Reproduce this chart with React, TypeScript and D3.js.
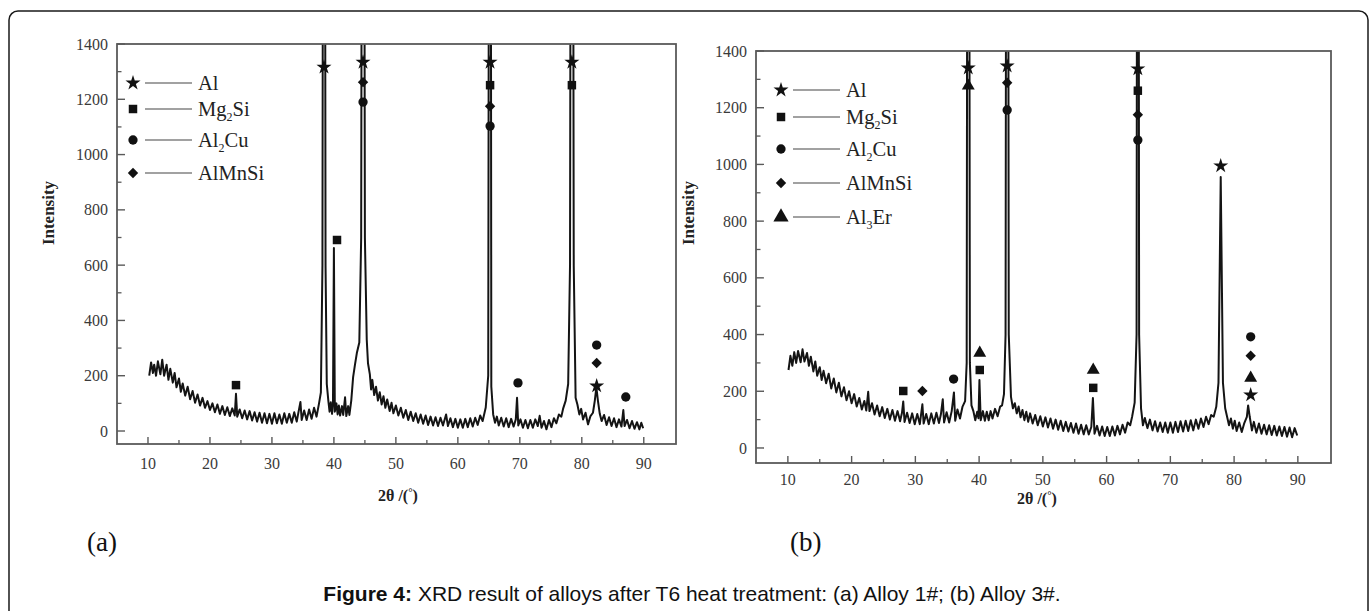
import * as d3 from 'd3';

type Pt = [number, number];

// axis ticks (2θ in degrees, intensity in counts)
const xTicks = [10, 20, 30, 40, 50, 60, 70, 80, 90];
const xMinorTicks = [15, 25, 35, 45, 55, 65, 75, 85];
const yTicks = [0, 200, 400, 600, 800, 1000, 1200, 1400];
const yMinorTicks = [100, 300, 500, 700, 900, 1100, 1300];

// (a) Alloy 1# pattern
const profileA: Pt[] = [
  [10.2, 200], [10.5, 248], [10.8, 210], [11, 240], [11.3, 200], [11.6, 252], [12, 205], [12.3, 258],
  [12.6, 200], [13, 240], [13.3, 185], [13.6, 225], [14, 175], [14.3, 210], [14.6, 158], [15, 190],
  [15.3, 142], [15.6, 172], [16, 128], [16.4, 160], [16.8, 115], [17.2, 145], [17.6, 102], [18, 132],
  [18.4, 92], [18.8, 120], [19.2, 84], [19.6, 108], [20, 76], [20.4, 100], [20.8, 68], [21.2, 96],
  [21.6, 62], [22, 90], [22.4, 58], [22.8, 86], [23.2, 54], [23.6, 82], [24, 56], [24.2, 135],
  [24.4, 52], [24.8, 78], [25.2, 46], [25.6, 74], [26, 42], [26.4, 72], [26.8, 38], [27.2, 68],
  [27.6, 34], [28, 66], [28.4, 30], [28.8, 64], [29.2, 28], [29.6, 62], [30, 26], [30.4, 64],
  [30.8, 28], [31.2, 60], [31.6, 26], [32, 64], [32.4, 30], [32.8, 62], [33.2, 30], [33.6, 68],
  [34, 34], [34.3, 70], [34.6, 105], [34.8, 40], [35.2, 74], [35.6, 40], [36, 78], [36.4, 44],
  [36.8, 84], [37.2, 52], [37.6, 100], [37.9, 140], [38.15, 600], [38.4, 5000], [38.65, 600],
  [38.85, 170], [39.1, 110], [39.3, 70], [39.5, 104], [39.7, 62], [39.85, 96], [40.0, 662],
  [40.15, 70], [40.4, 100], [40.6, 60], [40.8, 92], [41.0, 56], [41.3, 90], [41.5, 58], [41.8, 122],
  [42, 54], [42.3, 90], [42.5, 58], [42.8, 110], [43.1, 195], [43.4, 240], [43.7, 282], [44.1, 320],
  [44.4, 700], [44.7, 5000], [45.0, 700], [45.3, 330], [45.5, 245], [45.8, 205], [46.0, 150],
  [46.2, 185], [46.5, 130], [46.8, 160], [47.1, 110], [47.4, 140], [47.7, 96], [48, 126], [48.3, 84],
  [48.6, 114], [49, 72], [49.3, 102], [49.6, 64], [50, 92], [50.4, 56], [50.8, 84], [51.2, 48],
  [51.6, 76], [52, 40], [52.4, 70], [52.8, 36], [53.2, 64], [53.6, 30], [54, 60], [54.4, 26],
  [54.8, 56], [55.2, 22], [55.6, 52], [56, 20], [56.4, 50], [56.8, 18], [57.2, 48], [57.6, 20],
  [58.1, 60], [58.4, 18], [58.8, 46], [59.2, 14], [59.6, 44], [60, 12], [60.4, 42], [60.8, 12],
  [61.2, 44], [61.6, 14], [62, 46], [62.4, 16], [62.8, 48], [63.2, 22], [63.6, 56], [64, 36],
  [64.5, 85], [64.9, 200], [65.2, 5000], [65.4, 160], [65.7, 60], [66, 30], [66.3, 52], [66.6, 20],
  [67, 48], [67.4, 16], [67.8, 46], [68.2, 14], [68.6, 44], [69, 16], [69.35, 42], [69.55, 120],
  [69.75, 20], [70.1, 42], [70.5, 12], [70.9, 40], [71.3, 10], [71.7, 40], [72.1, 12], [72.5, 42],
  [72.9, 18], [73.2, 55], [73.5, 12], [73.9, 36], [74.3, 6], [74.7, 40], [75.1, 14], [75.5, 46],
  [75.9, 28], [76.3, 60], [76.7, 52], [77, 82], [77.4, 110], [77.8, 170], [78.1, 600], [78.4, 5000],
  [78.7, 600], [79.0, 120], [79.3, 95], [79.6, 60], [79.9, 80], [80.2, 42], [80.6, 66], [81, 24],
  [81.4, 54], [81.8, 66], [82.1, 110], [82.35, 158], [82.6, 110], [82.9, 62], [83.2, 36], [83.6, 58],
  [84, 22], [84.4, 50], [84.8, 18], [85.2, 46], [85.6, 14], [86, 42], [86.4, 16], [86.7, 76],
  [86.9, 18], [87.3, 40], [87.7, 10], [88.1, 36], [88.5, 8], [88.9, 32], [89.3, 6], [89.6, 30],
  [89.9, 10],
];

// (b) Alloy 3# pattern
const profileB: Pt[] = [
  [10.1, 275], [10.4, 325], [10.7, 290], [11, 338], [11.3, 300], [11.6, 342], [12, 302], [12.3, 348],
  [12.6, 305], [13, 335], [13.3, 290], [13.6, 322], [14, 270], [14.3, 305], [14.6, 255], [15, 285],
  [15.3, 240], [15.6, 272], [16, 228], [16.4, 262], [16.8, 210], [17.2, 245], [17.6, 196], [18, 230],
  [18.4, 182], [18.8, 214], [19.2, 168], [19.6, 200], [20, 158], [20.4, 190], [20.8, 146], [21.2, 176],
  [21.6, 136], [22, 166], [22.3, 132], [22.6, 198], [22.8, 130], [23.2, 158], [23.6, 118], [24, 150],
  [24.4, 112], [24.8, 144], [25.2, 106], [25.6, 138], [26, 100], [26.4, 134], [26.8, 96], [27.2, 130],
  [27.6, 94], [27.9, 124], [28.1, 164], [28.3, 92], [28.7, 124], [29.1, 88], [29.5, 122], [29.9, 84],
  [30.3, 120], [30.7, 84], [31.1, 154], [31.3, 86], [31.7, 120], [32.1, 84], [32.5, 122], [32.9, 86],
  [33.3, 124], [33.7, 88], [34.0, 118], [34.3, 172], [34.5, 90], [34.9, 126], [35.3, 90], [35.7, 130],
  [36.05, 196], [36.25, 96], [36.6, 136], [37, 104], [37.4, 146], [37.8, 165], [38.05, 300],
  [38.3, 5000], [38.55, 300], [38.8, 150], [39.1, 130], [39.4, 98], [39.7, 128], [39.9, 105],
  [40.05, 240], [40.25, 98], [40.6, 130], [40.9, 96], [41.2, 128], [41.5, 98], [41.8, 130],
  [42.1, 104], [42.5, 138], [42.9, 112], [43.3, 146], [43.6, 150], [43.9, 190], [44.15, 400],
  [44.4, 5000], [44.65, 400], [45.0, 180], [45.3, 140], [45.6, 158], [45.9, 122], [46.2, 146],
  [46.5, 108], [46.8, 134], [47.1, 98], [47.4, 128], [47.7, 92], [48, 122], [48.4, 86], [48.8, 116],
  [49.2, 80], [49.6, 112], [50, 76], [50.4, 108], [50.8, 72], [51.2, 104], [51.6, 68], [52, 100],
  [52.4, 64], [52.8, 96], [53.2, 60], [53.6, 92], [54, 58], [54.4, 88], [54.8, 54], [55.2, 86],
  [55.6, 50], [56, 82], [56.4, 48], [56.8, 80], [57.2, 48], [57.6, 74], [57.85, 176], [58.1, 50],
  [58.5, 78], [58.9, 44], [59.3, 76], [59.7, 42], [60.1, 74], [60.5, 42], [60.9, 76], [61.3, 44],
  [61.7, 78], [62.1, 48], [62.5, 82], [62.9, 54], [63.3, 90], [63.7, 80], [64.0, 110], [64.4, 160],
  [64.7, 400], [64.9, 5000], [65.1, 400], [65.4, 140], [65.7, 80], [66.0, 106], [66.4, 70],
  [66.8, 100], [67.2, 62], [67.6, 94], [68, 58], [68.4, 90], [68.8, 56], [69.2, 90], [69.6, 54],
  [70, 90], [70.4, 54], [70.8, 92], [71.2, 56], [71.6, 94], [72, 58], [72.4, 96], [72.8, 60],
  [73.2, 98], [73.6, 62], [74, 100], [74.4, 68], [74.8, 104], [75.2, 74], [75.6, 110], [76, 84],
  [76.4, 116], [76.8, 110], [77.2, 145], [77.55, 230], [77.9, 956], [78.25, 230], [78.6, 140],
  [78.9, 110], [79.2, 80], [79.5, 104], [79.8, 68], [80.1, 96], [80.4, 60], [80.8, 90], [81.2, 56],
  [81.6, 88], [82.0, 110], [82.2, 150], [82.45, 110], [82.8, 62], [83.1, 92], [83.5, 54], [83.9, 86],
  [84.3, 50], [84.7, 82], [85.1, 48], [85.5, 80], [85.9, 46], [86.3, 78], [86.7, 44], [87.1, 76],
  [87.5, 42], [87.9, 74], [88.3, 40], [88.7, 72], [89.1, 38], [89.5, 70], [89.9, 44],
];

// phase markers (2θ, marker height)
const alA: Pt[] = [[38.4, 1316], [44.7, 1334], [65.2, 1334], [78.4, 1334], [82.4, 163]];
const mg2siA: Pt[] = [[24.2, 166], [40.5, 691], [65.2, 1251], [78.4, 1251]];
const al2cuA: Pt[] = [[44.7, 1190], [65.2, 1103], [69.7, 174], [82.4, 311], [87.1, 123]];
const almnsiA: Pt[] = [[44.7, 1262], [65.2, 1175], [82.4, 246]];

const alB: Pt[] = [[38.3, 1340], [44.4, 1347], [64.9, 1337], [77.9, 995], [82.6, 187]];
const mg2siB: Pt[] = [[28.1, 201], [40.1, 275], [57.9, 212], [64.9, 1260]];
const al2cuB: Pt[] = [[36.0, 243], [44.4, 1192], [64.9, 1086], [82.6, 392]];
const almnsiB: Pt[] = [[31.1, 201], [44.4, 1288], [64.9, 1175], [82.6, 325]];
const al3erB: Pt[] = [[38.3, 1277], [40.1, 335], [57.9, 275], [82.6, 247]];

// legend names: [base, subscript, rest]
const phaseNames: Record<string, [string, string, string]> = {
  Al: ['Al', '', ''],
  Mg2Si: ['Mg', '2', 'Si'],
  Al2Cu: ['Al', '2', 'Cu'],
  AlMnSi: ['AlMnSi', '', ''],
  Al3Er: ['Al', '3', 'Er'],
};

const serif = '"Liberation Serif", "Times New Roman", serif';

function symbolPath(kind: string, legend = false) {
  if (kind === 'Al') return d3.symbol(d3.symbolStar, 70)();
  if (kind === 'Mg2Si') return d3.symbol(d3.symbolSquare, 72)();
  if (kind === 'Al2Cu') return d3.symbol(d3.symbolCircle, 68)();
  if (kind === 'AlMnSi') return d3.symbol(d3.symbolSquare, 54)();
  return d3.symbol(d3.symbolTriangle, legend ? 100 : 72)();
}

function Marker({ kind, x, y, legend }: { kind: string; x: number; y: number; legend?: boolean }) {
  const rot = kind === 'AlMnSi' ? ' rotate(45)' : '';
  return <path d={symbolPath(kind, legend) || ''} transform={`translate(${x},${y})${rot}`} fill="#111" />;
}

type PanelProps = {
  id: string;
  left: number; right: number; top: number; bottom: number;
  yMin: number;
  profile: Pt[];
  marks: [string, Pt[]][];
  legend: { x: number; ys: number[] };
  xTitle: { x: number; y: number };
  yTitle: { x: number; y: number };
  tickLabelGap: number;
};

function Panel(p: PanelProps) {
  const x = d3.scaleLinear().domain([5, 95.2]).range([p.left, p.right]);
  const y = d3.scaleLinear().domain([p.yMin, 1400]).range([p.bottom, p.top]);
  const line = d3.line<Pt>().x((d) => x(d[0])).y((d) => y(d[1]));
  const axis = '#5a5a5a';
  const labelFill = '#3a3a3a';
  return (
    <g>
      <defs>
        <clipPath id={`clip-${p.id}`}>
          <rect x={p.left} y={p.top} width={p.right - p.left} height={p.bottom - p.top} />
        </clipPath>
      </defs>
      <path d={line(p.profile) || ''} fill="none" stroke="#141414" strokeWidth={2}
        strokeLinejoin="round" clipPath={`url(#clip-${p.id})`} />
      <rect x={p.left} y={p.top} width={p.right - p.left} height={p.bottom - p.top}
        fill="none" stroke={axis} strokeWidth={1.8} />
      {yTicks.map((t) => (
        <g key={`y${t}`}>
          <line x1={p.left} x2={p.left + 8} y1={y(t)} y2={y(t)} stroke={axis} strokeWidth={1.4} />
          <text x={p.left - 9} y={y(t)} dy="0.35em" textAnchor="end" fontFamily={serif}
            fontSize={16} fill={labelFill}>{t}</text>
        </g>
      ))}
      {yMinorTicks.map((t) => (
        <line key={`ym${t}`} x1={p.left} x2={p.left + 4.5} y1={y(t)} y2={y(t)} stroke={axis} strokeWidth={1.3} />
      ))}
      {xTicks.map((t) => (
        <g key={`x${t}`}>
          <line x1={x(t)} x2={x(t)} y1={p.bottom} y2={p.bottom - 7} stroke={axis} strokeWidth={1.4} />
          <text x={x(t)} y={p.bottom + p.tickLabelGap} textAnchor="middle" fontFamily={serif}
            fontSize={16} fill={labelFill}>{t}</text>
        </g>
      ))}
      {xMinorTicks.map((t) => (
        <line key={`xm${t}`} x1={x(t)} x2={x(t)} y1={p.bottom} y2={p.bottom - 4} stroke={axis} strokeWidth={1.3} />
      ))}
      {p.marks.map(([kind, pts]) =>
        pts.map((d, i) => <Marker key={`${kind}${i}`} kind={kind} x={x(d[0])} y={y(d[1])} />)
      )}
      {p.marks.map(([kind], i) => {
        const ly = p.legend.ys[i];
        const [base, sub, rest] = phaseNames[kind];
        return (
          <g key={`lg${kind}`}>
            <Marker kind={kind} x={p.legend.x} y={ly} legend />
            <line x1={p.legend.x + 12} x2={p.legend.x + 59} y1={ly} y2={ly} stroke="#444" strokeWidth={1.2} />
            <text x={p.legend.x + 65} y={ly + 7} fontFamily={serif} fontSize={20.5} fill="#222">
              {base}
              {sub && <tspan fontSize={12} dy={5}>{sub}</tspan>}
              {rest && <tspan dy={sub ? -5 : 0}>{rest}</tspan>}
            </text>
          </g>
        );
      })}
      <text transform={`translate(${p.yTitle.x},${p.yTitle.y}) rotate(-90)`} textAnchor="middle"
        dy="0.35em" fontFamily={serif} fontWeight="bold" fontSize={17} fill="#222">Intensity</text>
      <text x={p.xTitle.x} y={p.xTitle.y} textAnchor="middle" fontFamily={serif} fontWeight="bold"
        fontSize={16} fill="#222">
        2θ /(<tspan fontSize={11} dy={-5}>°</tspan><tspan dy={5}>)</tspan>
      </text>
    </g>
  );
}

export default function App() {
  return (
    <svg width={1372} height={611} style={{ position: 'absolute', left: 0, top: 0, background: '#fff' }}>
      <rect x={9} y={11} width={1359} height={660} rx={9} fill="none" stroke="#1a1a1a" strokeWidth={1.5} />
      <Panel
        id="a" left={117} right={676} top={44} bottom={444} yMin={-47}
        profile={profileA}
        marks={[['Al', alA], ['Mg2Si', mg2siA], ['Al2Cu', al2cuA], ['AlMnSi', almnsiA]]}
        legend={{ x: 133, ys: [83, 109, 140, 173] }}
        xTitle={{ x: 398, y: 501 }} yTitle={{ x: 48, y: 213 }} tickLabelGap={25}
      />
      <Panel
        id="b" left={756} right={1331} top={51} bottom={463} yMin={-53}
        profile={profileB}
        marks={[['Al', alB], ['Mg2Si', mg2siB], ['Al2Cu', al2cuB], ['AlMnSi', almnsiB], ['Al3Er', al3erB]]}
        legend={{ x: 781, ys: [90, 117, 149, 183, 217] }}
        xTitle={{ x: 1037, y: 504 }} yTitle={{ x: 688, y: 213 }} tickLabelGap={22}
      />
      <text x={87} y={551} fontFamily={serif} fontSize={27} fill="#111">(a)</text>
      <text x={790} y={551} fontFamily={serif} fontSize={27} fill="#111">(b)</text>
      <text x={692} y={601} textAnchor="middle" fontFamily='"Liberation Sans", Arial, sans-serif'
        fontSize={21} fill="#111">
        <tspan fontWeight="bold">Figure 4:</tspan> XRD result of alloys after T6 heat treatment: (a) Alloy 1#; (b) Alloy 3#.
      </text>
    </svg>
  );
}
